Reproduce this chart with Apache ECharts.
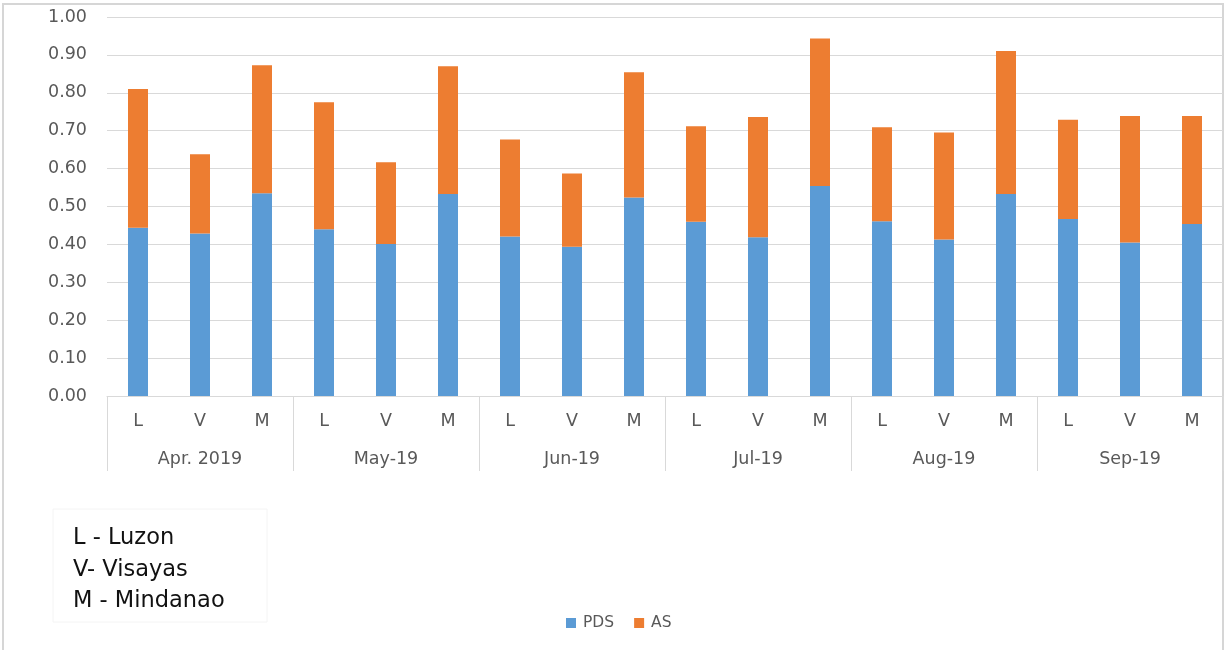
<!DOCTYPE html>
<html>
<head>
<meta charset="utf-8">
<script src="https://cdn.jsdelivr.net/npm/echarts@6/dist/echarts.min.js"></script>
<style>
  html, body { margin: 0; padding: 0; background: #ffffff; }
  #chart { width: 1226px; height: 650px; }
</style>
</head>
<body>
<div id="chart"></div>
<script>
// Regions within each month (L - Luzon, V - Visayas, M - Mindanao)
const regions = ['L', 'V', 'M', 'L', 'V', 'M', 'L', 'V', 'M', 'L', 'V', 'M', 'L', 'V', 'M', 'L', 'V', 'M'];
const months = ['Apr. 2019', 'May-19', 'Jun-19', 'Jul-19', 'Aug-19', 'Sep-19'];

// Stacked components per region and month
const pdsValues = [0.444, 0.429, 0.535, 0.440, 0.401, 0.533, 0.421, 0.394, 0.524,
                   0.460, 0.419, 0.554, 0.461, 0.413, 0.533, 0.467, 0.405, 0.454];
const asValues  = [0.366, 0.209, 0.338, 0.335, 0.216, 0.337, 0.256, 0.193, 0.330,
                   0.252, 0.317, 0.389, 0.248, 0.282, 0.377, 0.262, 0.334, 0.285];

const yTicks = { min: 0, max: 1, step: 0.1 };
const notes = ['L - Luzon', 'V- Visayas', 'M - Mindanao'];

const textColor = '#595959';
const lineColor = '#d9d9d9';
const baseFont = 'DejaVu Sans';

const chart = echarts.init(document.getElementById('chart'), null, { renderer: 'canvas' });

chart.setOption({
  backgroundColor: '#ffffff',
  animation: false,
  textStyle: { fontFamily: baseFont },
  grid: { left: 107, right: 3, top: 17, bottom: 254, containLabel: false },
  legend: {
    data: ['PDS', 'AS'],
    left: 566,
    top: 615,
    padding: 0,
    icon: 'rect',
    itemWidth: 10,
    itemHeight: 10,
    itemGap: 20,
    textStyle: { color: textColor, fontSize: 15.5, fontFamily: baseFont, padding: [0, 0, 0, 2] }
  },
  xAxis: [
    {
      type: 'category',
      data: regions,
      position: 'bottom',
      axisLine: { show: true, lineStyle: { color: lineColor, width: 1 } },
      axisTick: { show: false },
      axisLabel: { color: textColor, fontSize: 17.5, margin: 16, interval: 0 }
    },
    {
      type: 'category',
      data: months,
      position: 'bottom',
      boundaryGap: true,
      axisLine: { show: false },
      axisTick: { show: true, length: 75, interval: 0, lineStyle: { color: lineColor, width: 1 } },
      axisLabel: { color: textColor, fontSize: 17.5, margin: 54, interval: 0 }
    }
  ],
  yAxis: {
    type: 'value',
    min: yTicks.min,
    max: yTicks.max,
    interval: yTicks.step,
    axisLine: { show: false },
    axisTick: { show: false },
    splitLine: { show: true, lineStyle: { color: lineColor, width: 1 } },
    axisLabel: {
      color: textColor,
      fontSize: 17.5,
      margin: 20,
      formatter: v => v.toFixed(2)
    }
  },
  series: [
    {
      name: 'PDS',
      type: 'bar',
      stack: 'total',
      xAxisIndex: 0,
      barWidth: 20,
      itemStyle: { color: '#5B9BD5' },
      data: pdsValues
    },
    {
      name: 'AS',
      type: 'bar',
      stack: 'total',
      xAxisIndex: 0,
      barWidth: 20,
      itemStyle: { color: '#ED7D31' },
      data: asValues
    }
  ],
  graphic: [
    {
      type: 'rect',
      silent: true,
      shape: { x: 3, y: 4, width: 1220, height: 700 },
      style: { fill: 'none', stroke: '#d6d6d6', lineWidth: 2 }
    },
    {
      type: 'rect',
      silent: true,
      shape: { x: 53, y: 509, width: 214, height: 113 },
      style: { fill: 'none', stroke: '#f4f4f4', lineWidth: 1 }
    },
    ...notes.map((t, i) => ({
      type: 'text',
      silent: true,
      left: 73,
      top: [527, 559, 590][i],
      style: { text: t, fill: '#111111', font: '22.5px "DejaVu Sans"' }
    }))
  ]
});
</script>
</body>
</html>
